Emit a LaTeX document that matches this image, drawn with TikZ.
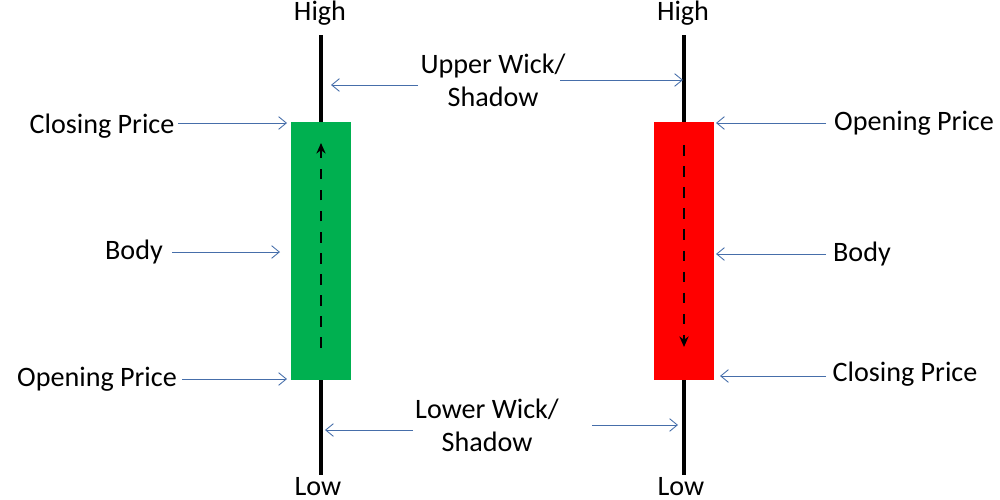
\documentclass[tikz,border=0pt]{standalone}
\usepackage{fontspec}
\setmainfont{Carlito}
\usetikzlibrary{arrows.meta}
\begin{document}
\begin{tikzpicture}[x=0.01cm,y=-0.01cm,
 lbl/.style={font=\fontsize{8}{9.4}\selectfont,align=center,inner sep=0pt},
 ptr/.style={draw={rgb,255:red,70;green,110;blue,170},line width=0.25pt,-{Straight Barb[length=2.2pt,width=3.6pt]}},
 wick/.style={line width=0.9pt},
 dsh/.style={dashed,line width=0.6pt,-{Stealth[length=3pt,width=2.6pt]}}]
\useasboundingbox (0,0) rectangle (1000,500);
\definecolor{gr}{RGB}{0,176,80}
% left candle
\coordinate (lt) at (321,35); \coordinate (lb) at (321,475);
\draw[wick] (lt) -- (lb);
\node[fill=gr,minimum width=0.6cm,minimum height=2.58cm,inner sep=0pt] (gbody) at (321,251) {};
\coordinate (gs) at (321,348); \coordinate (ge) at (321,143);
\draw[dsh] (gs) -- (ge);
% right candle
\coordinate (rt) at (684,35); \coordinate (rb) at (684,475);
\draw[wick] (rt) -- (rb);
\node[fill=red,minimum width=0.6cm,minimum height=2.58cm,inner sep=0pt] (rbody) at (684,251) {};
\coordinate (rs) at (684,145); \coordinate (re) at (684,347);
\draw[dsh] (rs) -- (re);
% labels
\node[lbl] (h1) at (320,13) {High};
\node[lbl] (h2) at (683,13) {High};
\node[lbl] (l1) at (318,487) {Low};
\node[lbl] (l2) at (681,487) {Low};
\node[lbl] (uw) at (493,80) {Upper Wick/\\Shadow};
\node[lbl] (lw) at (487,425) {Lower Wick/\\Shadow};
\node[lbl] (cp1) at (102,126) {Closing Price};
\node[lbl] (b1) at (134,252) {Body};
\node[lbl] (op1) at (97,379) {Opening Price};
\node[lbl] (op2) at (914,123) {Opening Price};
\node[lbl] (b2) at (862,254) {Body};
\node[lbl] (cp2) at (905,374) {Closing Price};
% pointers
\coordinate (a1) at (418,85); \coordinate (a1e) at (331,85);
\coordinate (a2) at (560,80); \coordinate (a2e) at (683,80);
\coordinate (a3) at (413,430); \coordinate (a3e) at (325,430);
\coordinate (a4) at (592,425); \coordinate (a4e) at (678,425);
\draw[ptr] (a1) -- (a1e); \draw[ptr] (a2) -- (a2e);
\draw[ptr] (a3) -- (a3e); \draw[ptr] (a4) -- (a4e);
\coordinate (p1) at (178,123); \coordinate (p1e) at (287,123);
\coordinate (p2) at (172,252); \coordinate (p2e) at (280,252);
\coordinate (p3) at (182,379); \coordinate (p3e) at (287,379);
\coordinate (q1) at (826,123); \coordinate (q1e) at (716,123);
\coordinate (q2) at (826,254); \coordinate (q2e) at (716,254);
\coordinate (q3) at (826,376); \coordinate (q3e) at (720,376);
\draw[ptr] (p1) -- (p1e); \draw[ptr] (p2) -- (p2e); \draw[ptr] (p3) -- (p3e);
\draw[ptr] (q1) -- (q1e); \draw[ptr] (q2) -- (q2e); \draw[ptr] (q3) -- (q3e);
\end{tikzpicture}
\end{document}
